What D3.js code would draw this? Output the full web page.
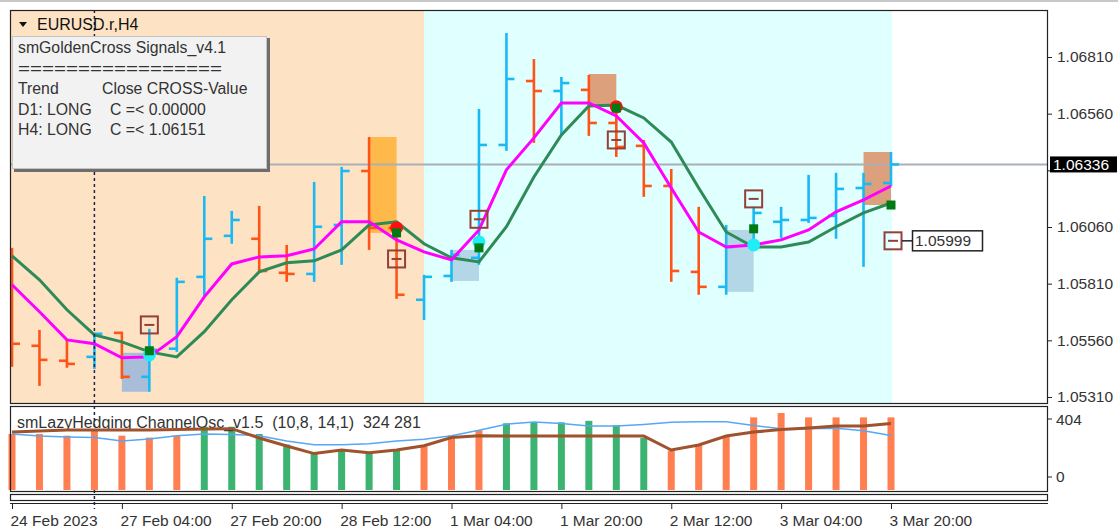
<!DOCTYPE html>
<html>
<head>
<meta charset="utf-8">
<script src="https://cdn.jsdelivr.net/npm/d3@7"></script>
<style>
  body { margin: 0; background: #fff; }
  svg { display: block; font-family: "Liberation Sans", Arial, sans-serif; }
  text { white-space: pre; }
</style>
</head>
<body>
<svg id="chart" width="1118" height="531"></svg>
<script>
// H4 bars, 24 Feb 12:00 .. 3 Mar 20:00
var times = [
  "2023-02-24 12:00", "2023-02-24 16:00", "2023-02-24 20:00",
  "2023-02-27 00:00", "2023-02-27 04:00", "2023-02-27 08:00", "2023-02-27 12:00", "2023-02-27 16:00", "2023-02-27 20:00",
  "2023-02-28 00:00", "2023-02-28 04:00", "2023-02-28 08:00", "2023-02-28 12:00", "2023-02-28 16:00", "2023-02-28 20:00",
  "2023-03-01 00:00", "2023-03-01 04:00", "2023-03-01 08:00", "2023-03-01 12:00", "2023-03-01 16:00", "2023-03-01 20:00",
  "2023-03-02 00:00", "2023-03-02 04:00", "2023-03-02 08:00", "2023-03-02 12:00", "2023-03-02 16:00", "2023-03-02 20:00",
  "2023-03-03 00:00", "2023-03-03 04:00", "2023-03-03 08:00", "2023-03-03 12:00", "2023-03-03 16:00", "2023-03-03 20:00"
];
var open  = [1.05739, 1.05536, 1.05470, 1.05487, 1.05593, 1.05399, 1.05523, 1.05840, 1.06021, 1.06008, 1.05858, 1.05853, 1.06069, 1.06307, 1.06056, 1.05739, 1.05844,
             1.05924, 1.06422, 1.06704, 1.06660, 1.06665, 1.06519, 1.06418, 1.06241, 1.05862, 1.05796, 1.05981, 1.06083, 1.06091, 1.06109, 1.06232, 1.06254];
var high  = [1.05968, 1.05606, 1.05562, 1.05593, 1.05598, 1.05611, 1.05836, 1.06197, 1.06131, 1.06153, 1.05981, 1.06259, 1.06325, 1.06457, 1.06060, 1.05849, 1.05959,
             1.06581, 1.06916, 1.06801, 1.06722, 1.06731, 1.06594, 1.06444, 1.06316, 1.06149, 1.06069, 1.06149, 1.06149, 1.06290, 1.06299, 1.06299, 1.06391];
var low   = [1.05443, 1.05359, 1.05439, 1.05434, 1.05390, 1.05333, 1.05509, 1.05752, 1.05986, 1.05862, 1.05818, 1.05818, 1.05893, 1.05959, 1.05743, 1.05650, 1.05818,
             1.05893, 1.06396, 1.06431, 1.06466, 1.06462, 1.06369, 1.06193, 1.05818, 1.05761, 1.05761, 1.05972, 1.06012, 1.06078, 1.06008, 1.05884, 1.06241];
var close = [1.05545, 1.05474, 1.05456, 1.05589, 1.05399, 1.05518, 1.05818, 1.06008, 1.06091, 1.05866, 1.05853, 1.06061, 1.06307, 1.06056, 1.05761, 1.05840, 1.05937,
             1.06422, 1.06713, 1.06660, 1.06695, 1.06519, 1.06413, 1.06241, 1.05866, 1.05796, 1.05972, 1.06122, 1.06091, 1.06100, 1.06228, 1.06250, 1.06336];

// moving averages (magenta fast, green slow)
var maFast = [1.05805, 1.05686, 1.05562, 1.05545, 1.05483, 1.05487, 1.05576, 1.05752, 1.05897, 1.05928, 1.05933, 1.05963, 1.06083, 1.06083, 1.06003, 1.05950, 1.05915,
              1.06047, 1.06312, 1.06453, 1.06607, 1.06607, 1.06550, 1.06431, 1.06232, 1.06038, 1.05972, 1.05981, 1.06003, 1.06047, 1.06127, 1.06180, 1.06241];
var maSlow = [1.05933, 1.05827, 1.05695, 1.05584, 1.05553, 1.05509, 1.05487, 1.05598, 1.05739, 1.05862, 1.05902, 1.05911, 1.05959, 1.06069, 1.06083, 1.05986, 1.05924,
              1.05906, 1.06061, 1.06281, 1.06466, 1.06594, 1.06598, 1.06541, 1.06435, 1.06232, 1.06038, 1.05972, 1.05972, 1.05994, 1.06061, 1.06122, 1.06166];

// signal zones
var zoneFrom = ["2023-02-27 04:00", "2023-02-28 16:00", "2023-03-01 04:00", "2023-03-02 00:00", "2023-03-02 20:00", "2023-03-03 16:00"];
var zoneTo   = ["2023-02-27 08:00", "2023-02-28 20:00", "2023-03-01 08:00", "2023-03-02 04:00", "2023-03-03 00:00", "2023-03-03 20:00"];
var zoneHigh = [1.05505, 1.06457, 1.05959, 1.06735, 1.06047, 1.06391];
var zoneLow  = [1.05333, 1.06034, 1.05822, 1.06590, 1.05774, 1.06157];
var zoneSide = ["buy", "sell", "buy", "sell", "buy", "sell"];

// cross markers
var crossTimes  = ["2023-02-27 08:00", "2023-02-28 20:00", "2023-03-01 08:00", "2023-03-02 04:00", "2023-03-03 00:00", "2023-03-03 20:00"];
var crossPrices = [1.05514, 1.06034, 1.05968, 1.06585, 1.06052, 1.06157];
var dotTimes  = ["2023-02-27 08:00", "2023-02-28 20:00", "2023-03-01 08:00", "2023-03-02 04:00", "2023-03-03 00:00"];
var dotPrices = [1.05496, 1.06056, 1.05994, 1.06590, 1.05981];
var dotSide   = ["buy", "sell", "buy", "sell", "buy"];
var markTimes  = ["2023-02-27 08:00", "2023-02-28 20:00", "2023-03-01 08:00", "2023-03-02 04:00", "2023-03-03 00:00", "2023-03-03 20:00"];
var markPrices = [1.05628, 1.05919, 1.06094, 1.06444, 1.06184, 1.05999];

var dayStart = "2023-03-01 00:00";
var weekStart = "2023-02-27 00:00";
var bid = 1.06336;
var priceTicks = [1.06810, 1.06560, 1.06310, 1.06060, 1.05810, 1.05560, 1.05310];
var timeTicks  = ["2023-02-24 12:00", "2023-02-27 04:00", "2023-02-27 20:00", "2023-02-28 12:00", "2023-03-01 04:00",
                  "2023-03-01 20:00", "2023-03-02 12:00", "2023-03-03 04:00", "2023-03-03 20:00"];
var timeLabels = ["24 Feb 2023", "27 Feb 04:00", "27 Feb 20:00", "28 Feb 12:00", "1 Mar 04:00",
                  "1 Mar 20:00", "2 Mar 12:00", "3 Mar 04:00", "3 Mar 20:00"];

// oscillator sub window
var oscHist  = [294, 294, 285, 313, 285, 275, 285, 332, 332, 294, 238, 191, 210, 195, 210, 229, 285,
                313, 350, 356, 355, 363, 339, 273, 207, 236, 283, 381, 404, 381, 381, 381, 381];
var oscUp    = [0, 0, 0, 0, 0, 0, 0, 1, 1, 1, 1, 1, 1, 1, 1, 0, 0,
                0, 1, 1, 1, 1, 1, 1, 0, 0, 0, 0, 0, 0, 0, 0, 0];
var oscMain  = [304, 310, 315, 315, 315, 315, 317, 320, 322, 273, 231, 191, 210, 195, 210, 232, 275,
                285, 283, 283, 283, 283, 283, 283, 210, 236, 283, 304, 317, 325, 336, 336, 349];
var oscSignal = [294, 283, 278, 275, 257, 268, 285, 294, 291, 285, 257, 238, 238, 243, 257, 266, 285,
                 313, 345, 357, 349, 336, 336, 344, 355, 358, 358, 339, 321, 321, 324, 311, 286];
var oscTicks = [404, 0];

var L = 10, R = 1048, T = 10, MB = 403, IT = 406, IB = 490;
var FS = 15.5;

var svg = d3.select("#chart");

var x = d3.scalePoint().domain(times).range([12, 891]);
var y = d3.scaleLinear().domain([1.05310, 1.06810]).range([397, 57]);
var yo = d3.scaleLinear().domain([0, 404]).range([IB, 413]);

svg.append("defs").append("clipPath").attr("id", "mainClip")
  .append("rect").attr("x", L).attr("y", T).attr("width", R - L).attr("height", MB - T);

var main = svg.append("g").attr("clip-path", "url(#mainClip)");

// day backgrounds
main.append("rect").attr("x", L).attr("y", T).attr("width", x(dayStart) - L).attr("height", MB - T).attr("fill", "#fde2c4");
main.append("rect").attr("x", x(dayStart)).attr("y", T).attr("width", x(times[times.length - 1]) + 1 - x(dayStart)).attr("height", MB - T).attr("fill", "#e0ffff");

// zones
main.append("g").selectAll("rect")
  .data(zoneFrom)
  .join("rect")
    .attr("x", d => x(d))
    .attr("y", (d, i) => y(zoneHigh[i]))
    .attr("width", (d, i) => x(zoneTo[i]) - x(d))
    .attr("height", (d, i) => y(zoneLow[i]) - y(zoneHigh[i]))
    .attr("fill", (d, i) => {
      var peach = d < dayStart;
      if (zoneSide[i] == "buy") return peach ? "#a9bdd8" : "#b3d7e6";
      return peach ? "#ffb84a" : "#dda07c";
    });

// week separator
svg.append("line")
  .attr("x1", x(weekStart)).attr("x2", x(weekStart))
  .attr("y1", T).attr("y2", 509)
  .attr("stroke", "#23234f").attr("stroke-width", 1.5).attr("stroke-dasharray", "3,3");

// bid line
main.append("line")
  .attr("x1", L).attr("x2", R).attr("y1", y(bid)).attr("y2", y(bid))
  .attr("stroke", "#a9b0b8").attr("stroke-width", 2);

// OHLC bars
var bars = main.append("g")
  .selectAll("g")
  .data(times)
  .join("g")
    .attr("stroke", (d, i) => close[i] > open[i] ? "#1bb9f3" : "#ff5417")
    .attr("stroke-width", 2.6);
bars.append("line").attr("x1", d => x(d)).attr("x2", d => x(d))
  .attr("y1", (d, i) => y(high[i])).attr("y2", (d, i) => y(low[i]));
bars.append("line").attr("x1", d => x(d) - 8).attr("x2", d => x(d))
  .attr("y1", (d, i) => y(open[i])).attr("y2", (d, i) => y(open[i]));
bars.append("line").attr("x1", d => x(d)).attr("x2", d => x(d) + 8)
  .attr("y1", (d, i) => y(close[i])).attr("y2", (d, i) => y(close[i]));

// moving averages
var line = d3.line().x((d, i) => x(times[i])).y(d => y(d));
main.append("path").attr("d", line(maSlow)).attr("fill", "none").attr("stroke", "#2e8b57").attr("stroke-width", 3);
main.append("path").attr("d", line(maFast)).attr("fill", "none").attr("stroke", "#ff00ff").attr("stroke-width", 3);

// cross markers
main.append("g").selectAll("circle")
  .data(dotTimes)
  .join("circle")
    .attr("cx", d => x(d))
    .attr("cy", (d, i) => y(dotPrices[i]))
    .attr("r", 6.5)
    .attr("fill", (d, i) => dotSide[i] == "buy" ? "#1eeef5" : "#ff1010");
main.append("g").selectAll("rect")
  .data(crossTimes)
  .join("rect")
    .attr("x", d => x(d) - 4.5)
    .attr("y", (d, i) => y(crossPrices[i]) - 4.5)
    .attr("width", 9).attr("height", 9)
    .attr("fill", "#007a12");

var marks = main.append("g").selectAll("g")
  .data(markTimes)
  .join("g")
    .attr("transform", (d, i) => `translate(${x(d) + (i == markTimes.length - 1 ? 2 : 0)},${y(markPrices[i])})`)
    .attr("stroke", "#93403a").attr("stroke-width", 2).attr("fill", "none");
marks.append("rect").attr("x", -8.5).attr("y", -8.5).attr("width", 17).attr("height", 17);
marks.append("line").attr("x1", -5).attr("x2", 5).attr("y1", 0).attr("y2", 0);

// price label of last mark
var lastMark = markPrices[markPrices.length - 1];
var lmx = x(markTimes[markTimes.length - 1]) + 2;
main.append("line").attr("x1", lmx + 9).attr("x2", 912).attr("y1", y(lastMark)).attr("y2", y(lastMark))
  .attr("stroke", "#222").attr("stroke-width", 1.5);
main.append("rect").attr("x", 912.5).attr("y", y(lastMark) - 10).attr("width", 70).attr("height", 20)
  .attr("fill", "#fff").attr("stroke", "#222").attr("stroke-width", 1.5);
main.append("text").attr("x", 915).attr("y", y(lastMark) + 5.5)
  .attr("font-size", FS).attr("fill", "#333").text(lastMark.toFixed(5));

// header and info panel
svg.append("path").attr("d", "M19,22L27,22L23,27Z").attr("fill", "#111");
svg.append("text").attr("x", 37).attr("y", 30).attr("font-size", 16).attr("fill", "#111").text("EURUSD.r,H4");

var info = svg.append("g");
info.append("rect").attr("x", 14).attr("y", 38).attr("width", 256).attr("height", 134).attr("fill", "#6e6e6e");
info.append("rect").attr("x", 12.5).attr("y", 36.5).attr("width", 254).attr("height", 132).attr("fill", "#f2f2f2").attr("stroke", "#c4c4c4");
var infoLines = ["smGoldenCross Signals_v4.1", "=================", "Trend", "D1: LONG", "H4: LONG"];
var infoRight = ["", "", "Close CROSS-Value", "C =< 0.00000", "C =< 1.06151"];
var infoRightX = [0, 0, 102, 110, 110];
info.selectAll("text.l")
  .data(infoLines)
  .join("text")
    .attr("class", "l")
    .attr("x", 18).attr("y", (d, i) => 53 + i * 20.5)
    .attr("font-size", 15.8).attr("fill", "#333")
    .text(d => d)
    .filter((d, i) => i == 1)
      .attr("textLength", 204).attr("lengthAdjust", "spacingAndGlyphs");
info.selectAll("text.r")
  .data(infoRight)
  .join("text")
    .attr("class", "r")
    .attr("x", (d, i) => infoRightX[i]).attr("y", (d, i) => 53 + i * 20.5)
    .attr("font-size", 15.8).attr("fill", "#333")
    .text(d => d);

// price axis (the label under the bid box is hidden, as in the terminal)
svg.append("g")
  .attr("transform", `translate(${R},0)`)
  .call(d3.axisRight(y).tickValues(priceTicks).tickSize(4).tickPadding(5).tickFormat(d3.format(".5f")))
  .call(g => g.select(".domain").remove())
  .call(g => g.selectAll("line").attr("stroke", "#222"))
  .call(g => g.selectAll("text").attr("font-size", FS).attr("fill", "#333").attr("font-family", "Liberation Sans, Arial, sans-serif"))
  .call(g => g.selectAll(".tick").filter(d => Math.abs(y(d) - y(bid)) < 14).select("text").remove());

svg.append("rect").attr("x", 1050).attr("y", y(bid) - 8).attr("width", 67).attr("height", 16).attr("fill", "#000");
svg.append("text").attr("x", 1053).attr("y", y(bid) + 5.5).attr("font-size", FS).attr("fill", "#fff").text(bid.toFixed(5));

// oscillator window
var osc = svg.append("g");
osc.append("g").selectAll("rect")
  .data(oscHist)
  .join("rect")
    .attr("x", (d, i) => x(times[i]) - 3.5)
    .attr("y", d => yo(d))
    .attr("width", 7)
    .attr("height", d => yo(0) - yo(d))
    .attr("fill", (d, i) => oscUp[i] ? "#3cb371" : "#ff7f50");
osc.append("text").attr("x", 17).attr("y", 428).attr("font-size", 16).attr("fill", "#333")
  .text("smLazyHedging ChannelOsc_v1.5  (10,8, 14,1)  324 281");
var oline = d3.line().x((d, i) => x(times[i])).y(d => yo(d));
osc.append("path").attr("d", oline(oscSignal)).attr("fill", "none").attr("stroke", "#55a8f5").attr("stroke-width", 1.5);
osc.append("path").attr("d", oline(oscMain)).attr("fill", "none").attr("stroke", "#a0522d").attr("stroke-width", 3);

svg.append("g")
  .selectAll("text")
  .data(oscTicks)
  .join("text")
    .attr("x", 1056)
    .attr("y", d => d ? yo(d) + 12 : yo(d) - 8)
    .attr("font-size", FS).attr("fill", "#333")
    .text(d => d);
svg.append("g").selectAll("line")
  .data(oscTicks)
  .join("line")
    .attr("x1", R).attr("x2", R + 4)
    .attr("y1", d => d ? yo(d) + 6 : yo(d) - 13).attr("y2", d => d ? yo(d) + 6 : yo(d) - 13)
    .attr("stroke", "#222");

// frames
var frames = svg.append("g").attr("fill", "none").attr("stroke", "#222").attr("stroke-width", 1.2);
frames.append("rect").attr("x", L + 0.5).attr("y", T + 0.5).attr("width", R - L - 1).attr("height", MB - T);
frames.append("rect").attr("x", L + 0.5).attr("y", IT + 0.5).attr("width", R - L - 1).attr("height", IB - IT + 1);
frames.append("rect").attr("x", L + 0.5).attr("y", IB + 4.5).attr("width", R - L - 1).attr("height", 6);
frames.append("line").attr("x1", L).attr("x2", R).attr("y1", 503.5).attr("y2", 503.5);
svg.append("line").attr("x1", 0).attr("x2", 1118).attr("y1", 1).attr("y2", 1).attr("stroke", "#c8c8c8").attr("stroke-width", 2);

// time axis
svg.append("g")
  .attr("transform", "translate(0,504)")
  .call(d3.axisBottom(x).tickValues(timeTicks).tickSize(5).tickFormat((d, i) => timeLabels[i]))
  .call(g => g.select(".domain").remove())
  .call(g => g.selectAll("line").attr("stroke", "#222"))
  .call(g => g.selectAll("text")
    .attr("text-anchor", "start").attr("dx", "-2").attr("dy", "0.9em")
    .attr("font-size", FS).attr("fill", "#333").attr("font-family", "Liberation Sans, Arial, sans-serif"));
</script>
</body>
</html>
